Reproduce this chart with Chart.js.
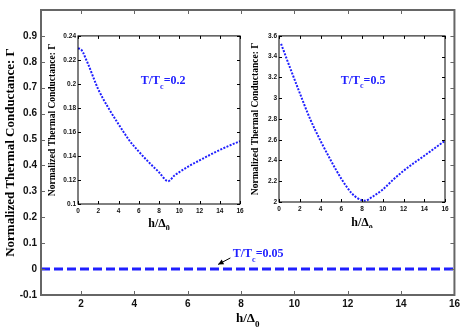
<!DOCTYPE html>
<html>
<head>
<meta charset="utf-8">
<script src="https://cdn.jsdelivr.net/npm/chart.js@4.4.1/dist/chart.umd.min.js"></script>
<style>
  body { margin: 0; background: #fff; }
  #wrap { position: relative; width: 463px; height: 328px; }
  canvas { position: absolute; }
</style>
</head>
<body>
<div id="wrap">
  <canvas id="main" width="463" height="328" style="left:0;top:0"></canvas>
  <canvas id="inset1" width="200" height="200" style="left:47px;top:30px"></canvas>
  <canvas id="inset2" width="204" height="198" style="left:249px;top:30px"></canvas>
</div>
<script>
// main plot, T/Tc = 0.05 (flat at zero)
const mainX = [0.5, 2, 4, 6, 8, 10, 12, 14, 16];
const mainY = [0, 0, 0, 0, 0, 0, 0, 0, 0];
const mainXTicks = [2, 4, 6, 8, 10, 12, 14, 16];
const mainYTicks = [-0.1, 0, 0.1, 0.2, 0.3, 0.4, 0.5, 0.6, 0.7, 0.8, 0.9];

// inset 1, T/Tc = 0.2
const in1X = [0, 0.25, 0.5, 0.75, 1, 1.7, 2, 3, 4, 4.5, 5, 6, 7, 8, 8.9,
              9.5, 10, 11, 12, 13, 14, 15, 16];
const in1Y = [0.2295, 0.229, 0.2262, 0.2213, 0.2165, 0.2015, 0.1955, 0.18, 0.1665, 0.16, 0.1537,
              0.1437, 0.1347, 0.1265, 0.119,
              0.1235, 0.1265, 0.1318, 0.1363, 0.1408, 0.145, 0.1488, 0.1523];
const in1XTicks = [0, 2, 4, 6, 8, 10, 12, 14, 16];
const in1YTicks = [0.1, 0.12, 0.14, 0.16, 0.18, 0.2, 0.22, 0.24];

// inset 2, T/Tc = 0.5
const in2X = [0.2, 1, 2, 3, 4, 5, 6, 7, 7.6, 8.3, 9, 10, 11, 12, 13, 14, 15, 16];
const in2Y = [3.524, 3.31, 3.05, 2.8, 2.59, 2.4, 2.225, 2.085, 2.035, 2.013, 2.05, 2.12, 2.215,
              2.3, 2.375, 2.445, 2.518, 2.59];
const in2XTicks = [0, 2, 4, 6, 8, 10, 12, 14, 16];
const in2YTicks = [2, 2.2, 2.4, 2.6, 2.8, 3, 3.2, 3.4, 3.6];

const BLUE = '#1f1fff';
const SERIF = '"Liberation Serif", "Times New Roman", serif';
const SANS = '"Liberation Sans", Arial, sans-serif';

// text with a lowered subscript, e.g. T/T_c=0.2
function subText(ctx, x, y, a, sub, b, size, color, center) {
  ctx.save();
  ctx.fillStyle = color;
  ctx.textBaseline = 'alphabetic';
  ctx.textAlign = 'left';
  const big = `bold ${size}px ${SERIF}`;
  const small = `bold ${Math.round(size * 0.7)}px ${SERIF}`;
  ctx.font = big;
  const wa = ctx.measureText(a).width;
  const wb = ctx.measureText(b).width;
  ctx.font = small;
  const ws = ctx.measureText(sub).width;
  if (center) x -= (wa + ws + wb) / 2;
  ctx.font = big;
  ctx.fillText(a, x, y);
  ctx.font = small;
  ctx.fillText(sub, x + wa, y + size * 0.4);
  ctx.font = big;
  ctx.fillText(b, x + wa + ws, y);
  ctx.restore();
}

// box around the plot area with inward ticks on all four sides, plus notes
const frame = {
  id: 'frame',
  afterDraw(chart, args, o) {
    const { ctx, chartArea: a } = chart;
    const xs = chart.scales.x, ys = chart.scales.y;
    ctx.save();
    ctx.strokeStyle = o.color;
    ctx.lineWidth = o.width;
    ctx.strokeRect(a.left, a.top, a.right - a.left, a.bottom - a.top);
    ctx.lineWidth = 1;
    ctx.beginPath();
    xs.ticks.forEach(t => {
      const px = Math.round(xs.getPixelForValue(t.value)) + 0.5;
      ctx.moveTo(px, a.bottom); ctx.lineTo(px, a.bottom - o.len);
      ctx.moveTo(px, a.top); ctx.lineTo(px, a.top + o.len);
    });
    ys.ticks.forEach(t => {
      const py = Math.round(ys.getPixelForValue(t.value)) + 0.5;
      ctx.moveTo(a.left, py); ctx.lineTo(a.left + o.len, py);
      ctx.moveTo(a.right, py); ctx.lineTo(a.right - o.len, py);
    });
    ctx.stroke();
    ctx.restore();

    // x axis title h/Δ0
    const cx = (a.left + a.right) / 2;
    subText(ctx, cx, a.bottom + o.titleDy, 'h/\u0394', '0', '', o.titleSize, '#000', true);

    (o.notes || []).forEach(n => {
      const nx = xs.getPixelForValue(n.x), ny = ys.getPixelForValue(n.y);
      subText(ctx, nx, ny, n.a, n.sub, n.b, n.size, BLUE, false);
      if (n.arrow) {
        const tx = xs.getPixelForValue(n.arrow[0]), ty = ys.getPixelForValue(n.arrow[1]);
        const hx = xs.getPixelForValue(n.arrow[2]), hy = ys.getPixelForValue(n.arrow[3]);
        const ang = Math.atan2(hy - ty, hx - tx);
        ctx.save();
        ctx.strokeStyle = '#000';
        ctx.fillStyle = '#000';
        ctx.lineWidth = 1;
        ctx.beginPath();
        ctx.moveTo(tx, ty); ctx.lineTo(hx, hy);
        ctx.stroke();
        ctx.beginPath();
        ctx.moveTo(hx, hy);
        ctx.lineTo(hx - 6 * Math.cos(ang - 0.45), hy - 6 * Math.sin(ang - 0.45));
        ctx.lineTo(hx - 6 * Math.cos(ang + 0.45), hy - 6 * Math.sin(ang + 0.45));
        ctx.closePath();
        ctx.fill();
        ctx.restore();
      }
    });
  }
};

function makeChart(id, cfg) {
  return new Chart(document.getElementById(id), {
    type: 'line',
    data: {
      datasets: [{
        data: cfg.xs.map((x, i) => ({ x: x, y: cfg.ys[i] })),
        borderColor: BLUE,
        borderWidth: cfg.lineWidth,
        borderDash: cfg.dash,
        pointRadius: 0,
        fill: false,
        cubicInterpolationMode: 'monotone'
      }]
    },
    options: {
      responsive: false,
      animation: false,
      devicePixelRatio: 1,
      layout: { padding: cfg.padding },
      plugins: {
        legend: { display: false },
        tooltip: { enabled: false },
        frame: cfg.frame
      },
      scales: {
        x: {
          type: 'linear',
          min: cfg.xMin, max: cfg.xMax,
          grid: { display: false, drawTicks: false },
          border: { display: false },
          afterBuildTicks: s => { s.ticks = cfg.xTicks.map(v => ({ value: v })); },
          afterFit: s => { s.height = cfg.xHeight; },
          ticks: {
            autoSkip: false, maxRotation: 0, padding: cfg.tickPad,
            color: '#111', font: cfg.tickFont,
            callback: v => String(v)
          }
        },
        y: {
          type: 'linear',
          min: cfg.yMin, max: cfg.yMax,
          grid: { display: false, drawTicks: false },
          border: { display: false },
          afterBuildTicks: s => { s.ticks = cfg.yTicks.map(v => ({ value: v })); },
          afterFit: s => { s.width = cfg.yWidth; },
          title: {
            display: true,
            text: 'Normalized Thermal Conductance: \u0393',
            color: '#000',
            font: cfg.titleFont,
            padding: { top: cfg.titlePad, bottom: 0 }
          },
          ticks: {
            autoSkip: false, padding: cfg.yTickPad,
            color: '#111', font: cfg.tickFont,
            callback: v => String(v)
          }
        }
      }
    },
    plugins: [frame]
  });
}

makeChart('main', {
  xs: mainX, ys: mainY, xTicks: mainXTicks, yTicks: mainYTicks,
  xMin: 0.5, xMax: 16, yMin: -0.1, yMax: 1.0,
  lineWidth: 3, dash: [9, 4],
  padding: { top: 9, right: 8, left: 0, bottom: 0 },
  xHeight: 33, yWidth: 41, tickPad: 3, yTickPad: 4,
  tickFont: { family: SANS, weight: 'bold', size: 10 },
  titleFont: { family: SERIF, weight: 'bold', size: 13 }, titlePad: 3,
  frame: {
    color: '#666', width: 2, len: 4, titleDy: 27, titleSize: 13,
    notes: [{ x: 7.69, y: 0.046, a: 'T/T', sub: 'c', b: '=0.05', size: 12,
              arrow: [7.6, 0.043, 7.14, 0.018] }]
  }
});

makeChart('inset1', {
  xs: in1X, ys: in1Y, xTicks: in1XTicks, yTicks: in1YTicks,
  xMin: 0, xMax: 16, yMin: 0.1, yMax: 0.24,
  lineWidth: 2, dash: [2, 1.4],
  padding: { top: 4.7, right: 7, left: 0, bottom: 0 },
  xHeight: 26, yWidth: 31, tickPad: 3, yTickPad: 2,
  tickFont: { family: SANS, weight: 'bold', size: 6.5 },
  titleFont: { family: SERIF, weight: 'bold', size: 9.5 }, titlePad: 0,
  frame: {
    color: '#000', width: 1, len: 3, titleDy: 22.5, titleSize: 12,
    notes: [{ x: 6.2, y: 0.1998, a: 'T/T', sub: 'c', b: '=0.2', size: 12 }]
  }
});

makeChart('inset2', {
  xs: in2X, ys: in2Y, xTicks: in2XTicks, yTicks: in2YTicks,
  xMin: 0, xMax: 16, yMin: 2, yMax: 3.6,
  lineWidth: 2, dash: [2, 1.4],
  padding: { top: 4.7, right: 8, left: 0, bottom: 0 },
  xHeight: 26, yWidth: 30, tickPad: 3, yTickPad: 2,
  tickFont: { family: SANS, weight: 'bold', size: 6.5 },
  titleFont: { family: SERIF, weight: 'bold', size: 9.5 }, titlePad: 1,
  frame: {
    color: '#000', width: 1, len: 3, titleDy: 24, titleSize: 12,
    notes: [{ x: 5.95, y: 3.141, a: 'T/T', sub: 'c', b: '=0.5', size: 12 }]
  }
});
</script>
</body>
</html>
